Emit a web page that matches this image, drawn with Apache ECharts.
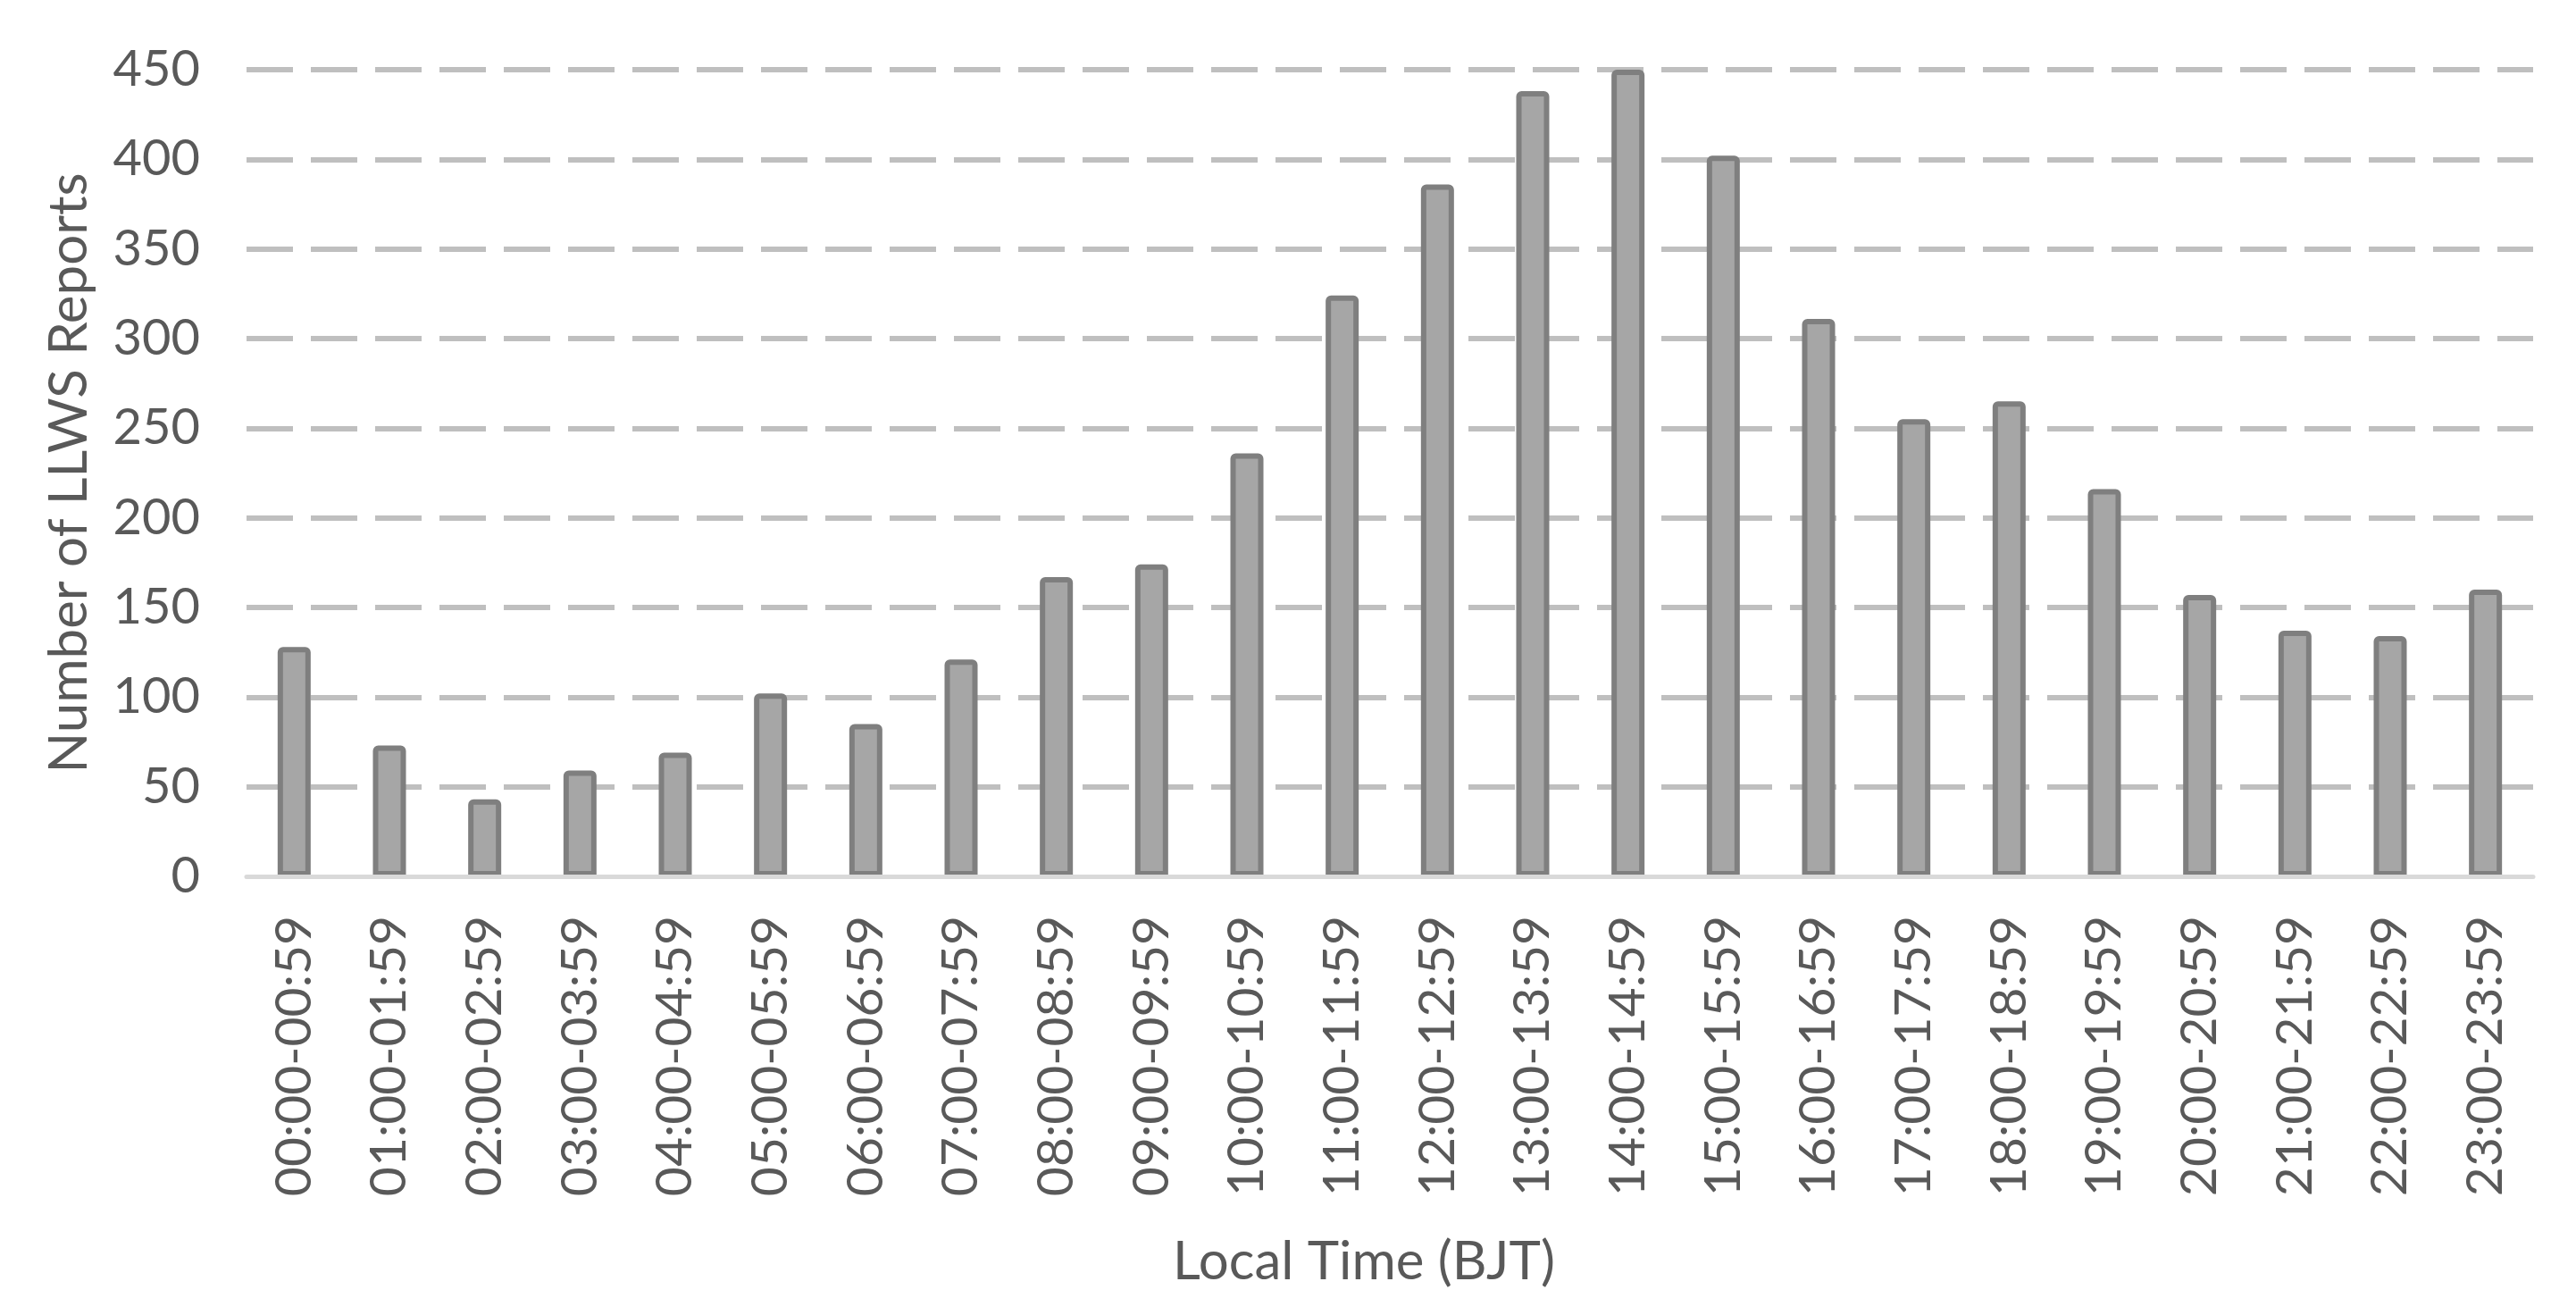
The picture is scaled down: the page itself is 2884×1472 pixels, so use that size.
<!DOCTYPE html>
<html>
<head>
<meta charset="utf-8">
<script src="https://cdn.jsdelivr.net/npm/echarts@6/dist/echarts.min.js"></script>
<style>
  html, body { margin: 0; padding: 0; background: #ffffff; }
  #chart { width: 2884px; height: 1472px; }
</style>
</head>
<body>
<div id="chart"></div>
<script>
const categories = [
  '00:00-00:59','01:00-01:59','02:00-02:59','03:00-03:59','04:00-04:59','05:00-05:59',
  '06:00-06:59','07:00-07:59','08:00-08:59','09:00-09:59','10:00-10:59','11:00-11:59',
  '12:00-12:59','13:00-13:59','14:00-14:59','15:00-15:59','16:00-16:59','17:00-17:59',
  '18:00-18:59','19:00-19:59','20:00-20:59','21:00-21:59','22:00-22:59','23:00-23:59'
];
const reports = [128, 73, 43, 59, 69, 102, 85, 121, 167, 174, 236, 324,
                 386, 438, 450, 402, 311, 255, 265, 216, 157, 137, 134, 160];
const yTicks = { min: 0, max: 450, interval: 50 };
const xTitle = 'Local Time (BJT)';
const yTitle = 'Number of LLWS Reports';

const FONT = 'Lato';
const TEXT = '#595959';

const chart = echarts.init(document.getElementById('chart'), null, { renderer: 'canvas' });
chart.setOption({
  backgroundColor: '#ffffff',
  animation: false,
  grid: { left: 276, right: 48, top: 78, bottom: 491, containLabel: false },
  xAxis: {
    type: 'category',
    data: categories,
    z: 3,
    axisLine: { show: true, lineStyle: { color: '#d9d9d9', width: 5 } },
    axisTick: { show: false },
    axisLabel: {
      rotate: 90, margin: 44, interval: 0,
      color: TEXT, fontFamily: FONT, fontSize: 57
    },
    name: xTitle,
    nameLocation: 'middle',
    nameGap: 402,
    nameTextStyle: { color: TEXT, fontFamily: FONT, fontSize: 60, padding: [0, 58, 0, 0] }
  },
  yAxis: {
    type: 'value',
    min: yTicks.min, max: yTicks.max, interval: yTicks.interval,
    axisLine: { show: false },
    axisTick: { show: false },
    axisLabel: { margin: 52, color: TEXT, fontFamily: FONT, fontSize: 56 },
    splitLine: {
      show: true, showMinLine: false,
      lineStyle: { color: '#bfbfbf', width: 6, type: [52, 20], cap: 'butt' }
    },
    name: yTitle,
    nameLocation: 'middle',
    nameGap: 168,
    nameTextStyle: { color: TEXT, fontFamily: FONT, fontSize: 60 }
  },
  series: [{
    type: 'bar',
    data: reports,
    barWidth: 37,
    itemStyle: {
      color: '#a6a6a6',
      borderColor: '#7f7f7f',
      borderWidth: 6,
      borderRadius: [3, 3, 0, 0]
    }
  }]
});
</script>
</body>
</html>
